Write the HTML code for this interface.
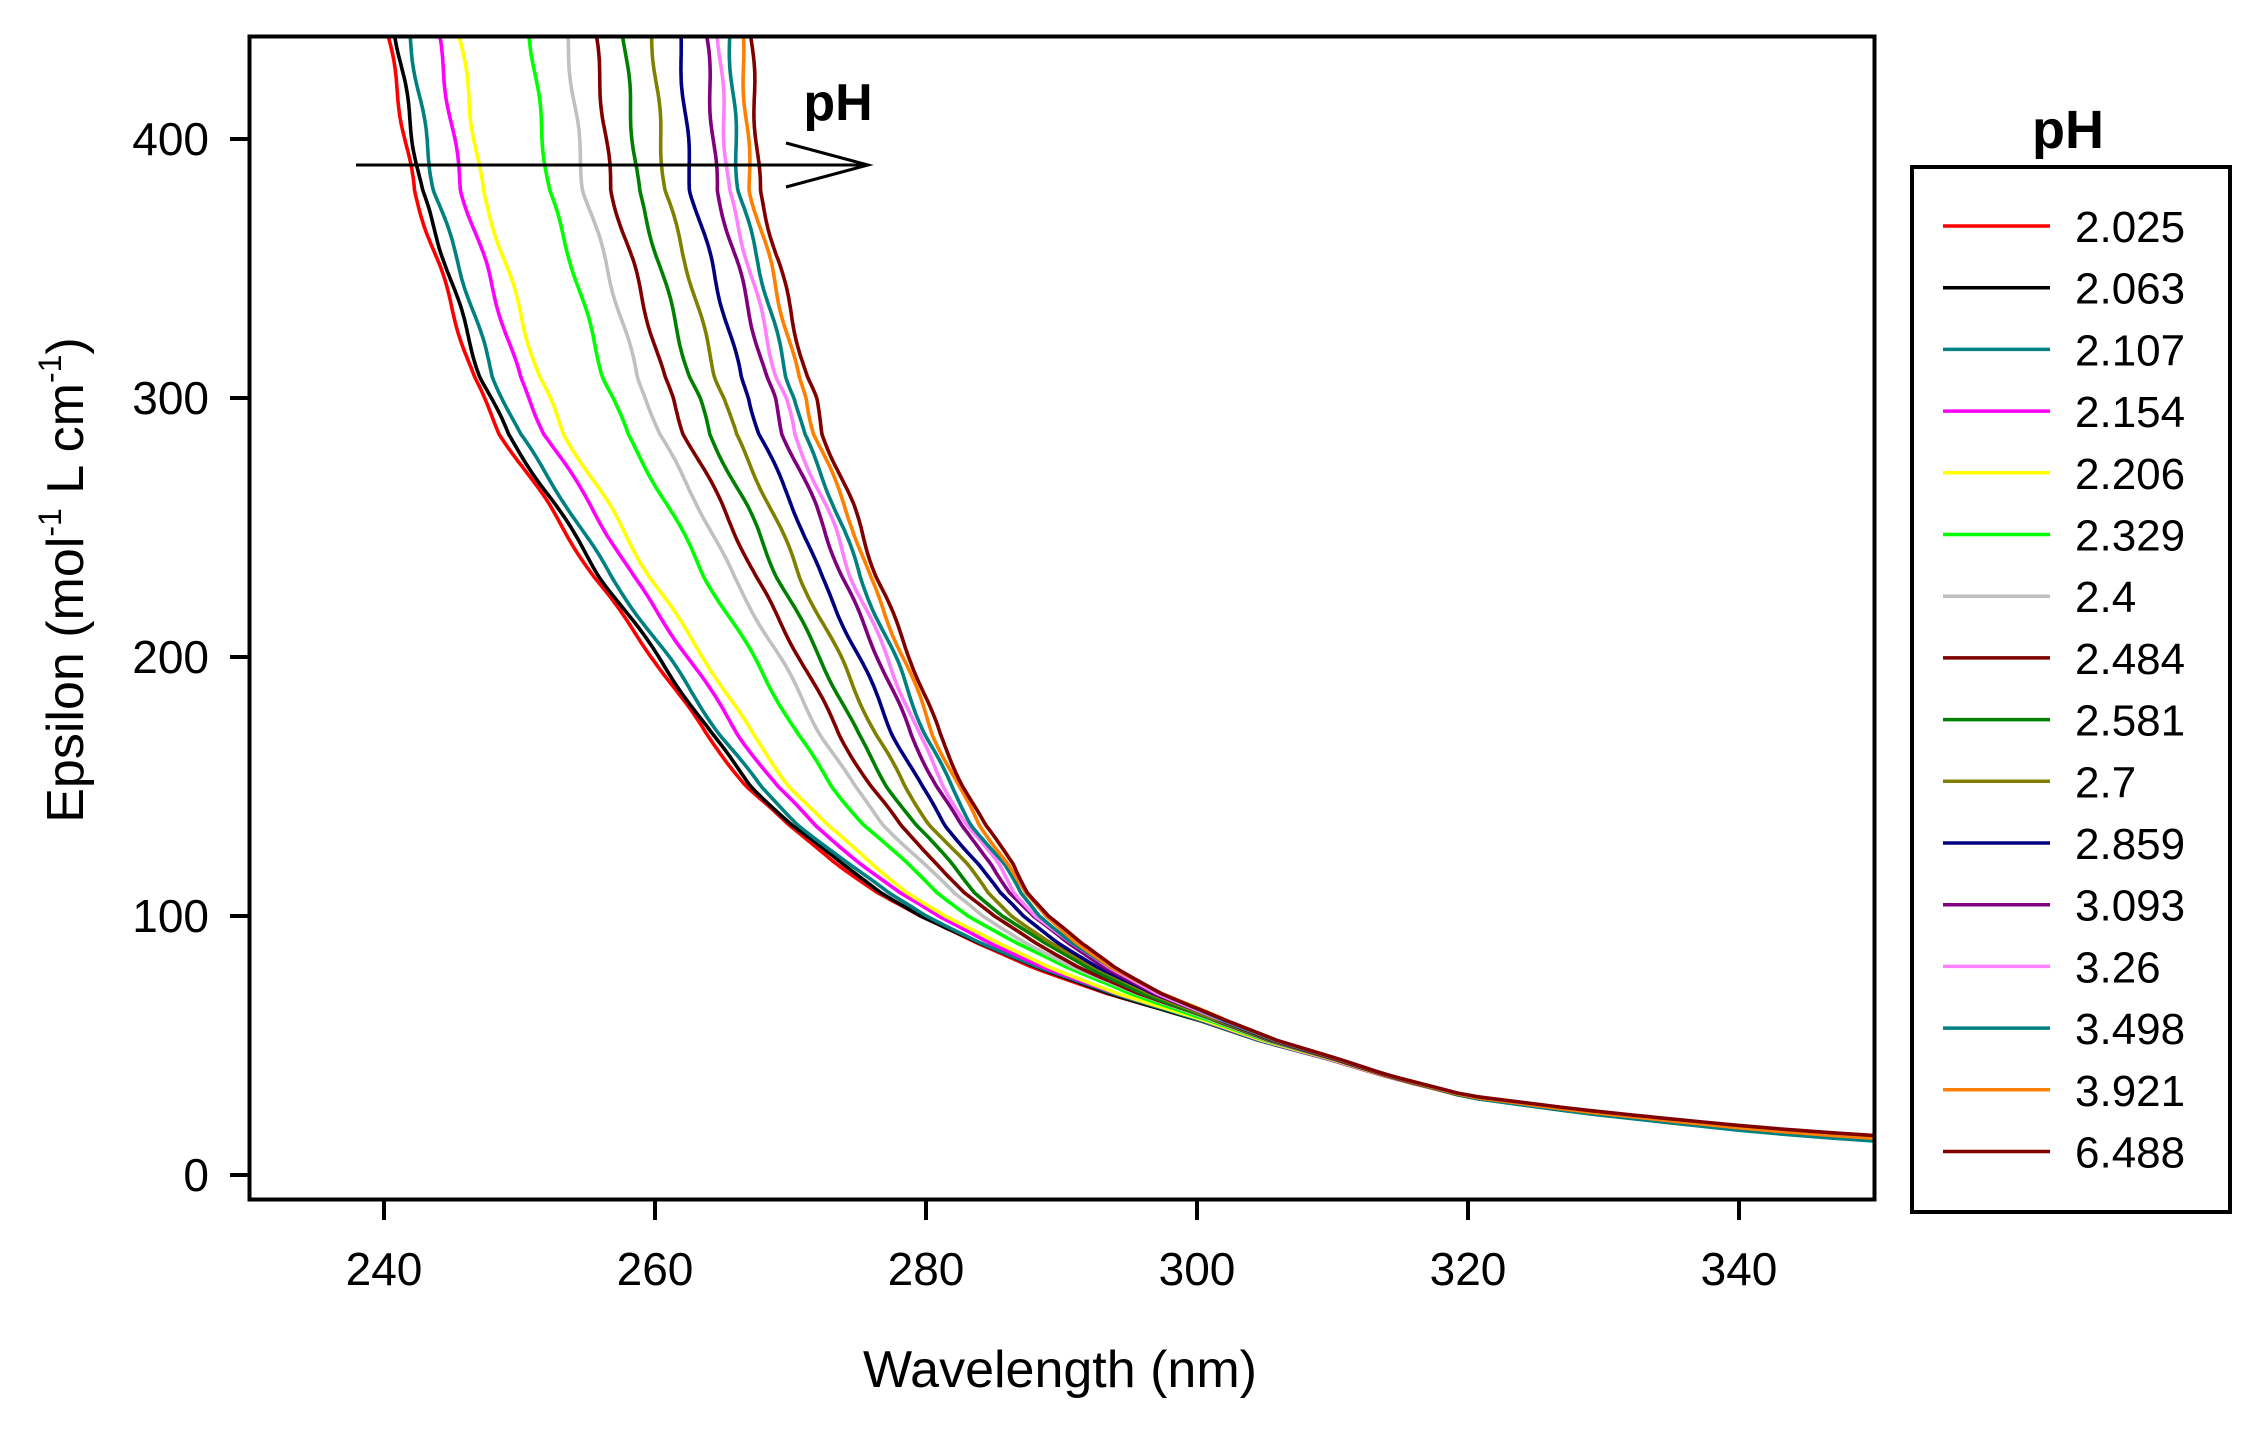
<!DOCTYPE html>
<html><head><meta charset="utf-8"><style>
html,body{margin:0;padding:0;background:#fff;}
svg{display:block;}
text{font-family:"Liberation Sans",Arial,sans-serif;}
</style></head><body>
<svg id="s" width="2259" height="1430" viewBox="0 0 2259 1430" xmlns="http://www.w3.org/2000/svg">
<defs><clipPath id="c"><rect x="248" y="35" width="1627" height="1165"/></clipPath></defs>
<rect width="2259" height="1430" fill="#fff"/>
<g id="curves" clip-path="url(#c)" fill="none" stroke-width="3.6" stroke-linejoin="round"></g>
<rect x="249.5" y="36.5" width="1625" height="1163" fill="none" stroke="#000" stroke-width="4"/>
<g stroke="#000" stroke-width="4">
<line x1="230" y1="1175" x2="249" y2="1175"/>
<line x1="230" y1="916" x2="249" y2="916"/>
<line x1="230" y1="657" x2="249" y2="657"/>
<line x1="230" y1="398" x2="249" y2="398"/>
<line x1="230" y1="139" x2="249" y2="139"/>
<line x1="384" y1="1200" x2="384" y2="1220"/>
<line x1="655" y1="1200" x2="655" y2="1220"/>
<line x1="926" y1="1200" x2="926" y2="1220"/>
<line x1="1197" y1="1200" x2="1197" y2="1220"/>
<line x1="1468" y1="1200" x2="1468" y2="1220"/>
<line x1="1739" y1="1200" x2="1739" y2="1220"/>
</g>
<g font-size="46" text-anchor="end">
<text x="209" y="1191">0</text>
<text x="209" y="932">100</text>
<text x="209" y="673">200</text>
<text x="209" y="414">300</text>
<text x="209" y="155">400</text>
</g>
<g font-size="46" text-anchor="middle">
<text x="384" y="1285">240</text>
<text x="655" y="1285">260</text>
<text x="926" y="1285">280</text>
<text x="1197" y="1285">300</text>
<text x="1468" y="1285">320</text>
<text x="1739" y="1285">340</text>
</g>
<text x="1060" y="1387" font-size="52" text-anchor="middle">Wavelength (nm)</text>
<text transform="translate(83,580) rotate(-90)" font-size="52" text-anchor="middle">Epsilon (mol<tspan font-size="32" dy="-22">-1</tspan><tspan dy="22"> L cm</tspan><tspan font-size="32" dy="-22">-1</tspan><tspan dy="22">)</tspan></text>
<g stroke="#000" stroke-width="3" fill="none">
<line x1="356" y1="165" x2="868" y2="165"/>
<polyline points="786,143 868,165 786,187"/>
</g>
<text x="838" y="120" font-size="52" font-weight="bold" text-anchor="middle">pH</text>
<text x="2068" y="148" font-size="54" font-weight="bold" text-anchor="middle">pH</text>
<rect x="1912" y="167" width="318" height="1045" fill="none" stroke="#000" stroke-width="4"/>
<g id="leg" font-size="44"></g>
</svg>
<script>
var cols=["#ff0000","#000000","#008080","#ff00ff","#ffff00","#00ff00","#c0c0c0","#800000","#008000","#808000","#000080","#800080","#ff80ff","#008080","#ff8000","#800000"];
var labs=["2.025","2.063","2.107","2.154","2.206","2.329","2.4","2.484","2.581","2.7","2.859","3.093","3.26","3.498","3.921","6.488"];
var tops=[240.3,240.9,241.9,244,245.6,250.8,253.5,255.6,257.7,259.8,261.8,263.8,264.7,265.5,266.4,267.1];
var R=[[445,240.0],[440,240.3],[380,242.2],[352,244],[308,246.6],[286,248.6],[259,252.1],[231,255.5],[198,260.1],[170,263.8],[150,266.8],[135,269.8],[120,273.5],[109,276.5],[100,279.5],[90,283.5],[80,288],[70,293.5],[60,300],[52,304.5],[45,309.5],[38,314],[30,320],[24,328.5],[20,335.5],[17,341],[15,345.5],[13,351]];
var S=[[445,27],[440,26.8],[380,25.5],[300,24.5],[250,22],[200,19],[150,16],[120,13],[100,9.5],[80,6],[60,2],[45,0.8],[30,0],[0,0]];
function interp(t,e){for(var k=0;k<t.length-1;k++){var a=t[k],b=t[k+1];if(e<=a[0]&&e>=b[0]){var f=(a[0]-e)/(a[0]-b[0]);return a[1]+f*(b[1]-a[1]);}}return t[t.length-1][1];}
var g=document.getElementById('curves'),NS="http://www.w3.org/2000/svg";
for(var i=0;i<16;i++){
 var w=(tops[i]-240.3)/26.8, d="";
 var tailOff=(i>=11?0.6:0)+(i==15?0.8:0)-(i==13?0.8:0);
 for(var e=445;e>=12;e-=1.5){
  var amp=e>60?0.12:0.04;
  var lam=interp(R,e)+w*interp(S,e)+amp*Math.sin(e*0.15+i*1.7);
  var ee=e+(e<40?tailOff*(1-e/40)*2:0);
  var x=384+(lam-240)*13.55, y=1175-ee*2.59;
  d+=(d?"L":"M")+x.toFixed(1)+","+y.toFixed(1);
 }
 var p=document.createElementNS(NS,"path");p.setAttribute("d",d);p.setAttribute("stroke",cols[i]);g.appendChild(p);
}
var L=document.getElementById('leg');
for(var i=0;i<16;i++){var y=226+i*61.7;
 var l=document.createElementNS(NS,"line");l.setAttribute("x1",1943);l.setAttribute("x2",2050);l.setAttribute("y1",y);l.setAttribute("y2",y);l.setAttribute("stroke",cols[i]);l.setAttribute("stroke-width",3.5);L.appendChild(l);
 var t=document.createElementNS(NS,"text");t.setAttribute("x",2075);t.setAttribute("y",y+16);t.textContent=labs[i];L.appendChild(t);}
</script>
</body></html>
